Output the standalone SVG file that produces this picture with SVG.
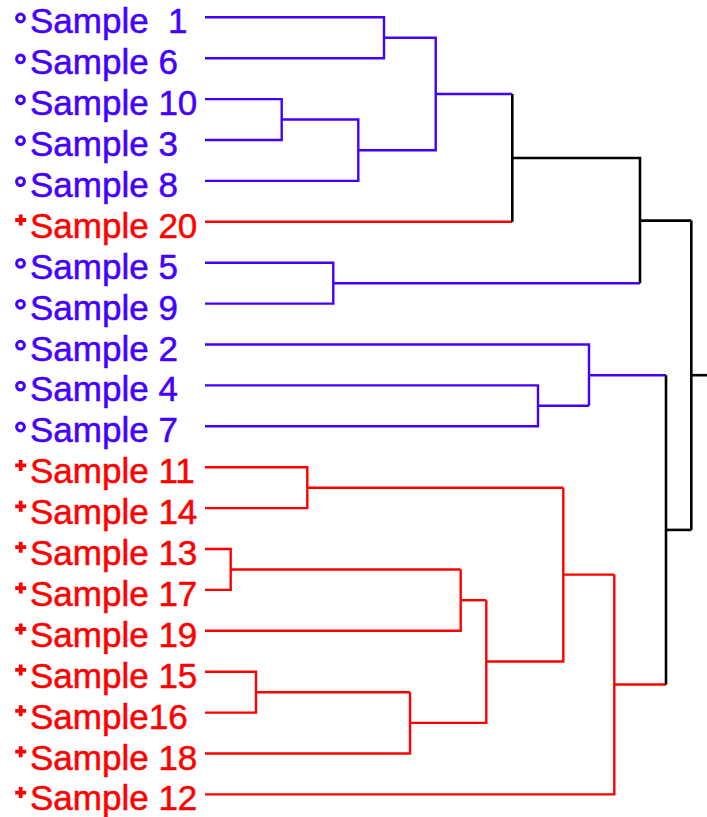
<svg xmlns="http://www.w3.org/2000/svg" xmlns:xlink="http://www.w3.org/1999/xlink" width="707" height="817" viewBox="0 0 707 817">
<style>
.lbl{font-family:"Liberation Sans",Arial,sans-serif;font-size:35px;stroke-width:0.5px}
.b{fill:#4400ff;stroke:#4400ff}
.r{fill:#ff0000;stroke:#ff0000}
.cb{fill:none;stroke:#4400ff;stroke-width:2.4}
.cr{fill:none;stroke:#ff0000;stroke-width:2.4}
.ck{fill:none;stroke:#000;stroke-width:2.6}
</style>
<defs>
<circle id="mc" cx="0" cy="0" r="3.9" fill="none" stroke="#4400ff" stroke-width="3"/>
<path id="mp" d="M-5.5 0H5.5M0-5.5V5.5" stroke="#ff0000" stroke-width="3.8" fill="none"/>
</defs>
<rect width="707" height="817" fill="#fff"/>
<g id="connectors">
<path class="cb" d="M205 17.3H384V58.2H205" stroke-width="3"/>
<path class="cb" d="M384 37.7H435.7V150.2H358.3"/>
<path class="cb" d="M205 99.1H281.7V140H205"/>
<path class="cb" d="M281.7 119.5H358.3V180.9H205"/>
<path class="cb" d="M435.7 94H512.3"/>
<path class="cr" d="M205 221.8H512.3"/>
<path class="ck" d="M512.3 94V221.8"/>
<path class="cb" d="M205 262.7H333.3V303.6H205"/>
<path class="cb" d="M333.3 283.2H640"/>
<path class="ck" d="M512.3 158H640V283.2"/>
<path class="ck" d="M640 220.6H691.3"/>
<path class="cb" d="M205 385.4H538V426.3H205"/>
<path class="cb" d="M538 405.8H589"/>
<path class="cb" d="M205 344.5H589V405.8"/>
<path class="cb" d="M589 375.2H666" stroke-width="1.6"/>
<path class="cr" d="M205 467.2H307.3V508.1H205"/>
<path class="cr" d="M307.3 487.7H563.3"/>
<path class="cr" d="M205 549H230.7V589.9H205"/>
<path class="cr" d="M230.7 569.5H460.7"/>
<path class="cr" d="M205 630.8H460.7V569.5"/>
<path class="cr" d="M460.7 600.2H486.3"/>
<path class="cr" d="M205 671.7H256V712.6H205" stroke-width="1.8"/>
<path class="cr" d="M256 692.2H410" stroke-width="3"/>
<path class="cr" d="M205 753.5H410V692.2"/>
<path class="cr" d="M410 722.9H486.3V600.2"/>
<path class="cr" d="M486.3 661.5H563.3V487.7"/>
<path class="cr" d="M563.3 574.6H614.3"/>
<path class="cr" d="M205 794.4H614.3V574.6"/>
<path class="cr" d="M614.3 684.5H666"/>
<path class="ck" d="M666 375.2V684.5"/>
<path class="ck" d="M666 529.9H691.3" stroke-width="3"/>
<path class="ck" d="M691.3 220.6V529.9"/>
<path class="ck" d="M691.3 375.2H707" stroke-width="1.5"/>
</g>
<g id="s1"><use xlink:href="#mc" x="20.5" y="18"/><text class="lbl b" x="30" y="33.3" xml:space="preserve">Sample  1</text></g>
<g id="s6"><use xlink:href="#mc" x="20.5" y="58.9"/><text class="lbl b" x="30" y="74.2">Sample 6</text></g>
<g id="s10"><use xlink:href="#mc" x="20.5" y="99.8"/><text class="lbl b" x="30" y="115.1">Sample 10</text></g>
<g id="s3"><use xlink:href="#mc" x="20.5" y="140.7"/><text class="lbl b" x="30" y="156">Sample 3</text></g>
<g id="s8"><use xlink:href="#mc" x="20.5" y="181.6"/><text class="lbl b" x="30" y="196.9">Sample 8</text></g>
<g id="s20"><use xlink:href="#mp" x="20.7" y="220"/><text class="lbl r" x="30" y="237.8">Sample 20</text></g>
<g id="s5"><use xlink:href="#mc" x="20.5" y="263.4"/><text class="lbl b" x="30" y="278.7">Sample 5</text></g>
<g id="s9"><use xlink:href="#mc" x="20.5" y="304.3"/><text class="lbl b" x="30" y="319.6">Sample 9</text></g>
<g id="s2"><use xlink:href="#mc" x="20.5" y="345.2"/><text class="lbl b" x="30" y="360.5">Sample 2</text></g>
<g id="s4"><use xlink:href="#mc" x="20.5" y="386.1"/><text class="lbl b" x="30" y="401.4">Sample 4</text></g>
<g id="s7"><use xlink:href="#mc" x="20.5" y="427"/><text class="lbl b" x="30" y="442.3">Sample 7</text></g>
<g id="s11"><use xlink:href="#mp" x="20.7" y="465.4"/><text class="lbl r" x="30" y="483.2">Sample 11</text></g>
<g id="s14"><use xlink:href="#mp" x="20.7" y="506.3"/><text class="lbl r" x="30" y="524.1">Sample 14</text></g>
<g id="s13"><use xlink:href="#mp" x="20.7" y="547.2"/><text class="lbl r" x="30" y="565">Sample 13</text></g>
<g id="s17"><use xlink:href="#mp" x="20.7" y="588.1"/><text class="lbl r" x="30" y="605.9">Sample 17</text></g>
<g id="s19"><use xlink:href="#mp" x="20.7" y="629"/><text class="lbl r" x="30" y="646.8">Sample 19</text></g>
<g id="s15"><use xlink:href="#mp" x="20.7" y="669.9"/><text class="lbl r" x="30" y="687.7">Sample 15</text></g>
<g id="s16"><use xlink:href="#mp" x="20.7" y="710.8"/><text class="lbl r" x="30" y="728.6">Sample16</text></g>
<g id="s18"><use xlink:href="#mp" x="20.7" y="751.7"/><text class="lbl r" x="30" y="769.5">Sample 18</text></g>
<g id="s12"><use xlink:href="#mp" x="20.7" y="792.6"/><text class="lbl r" x="30" y="810.4">Sample 12</text></g>
</svg>
